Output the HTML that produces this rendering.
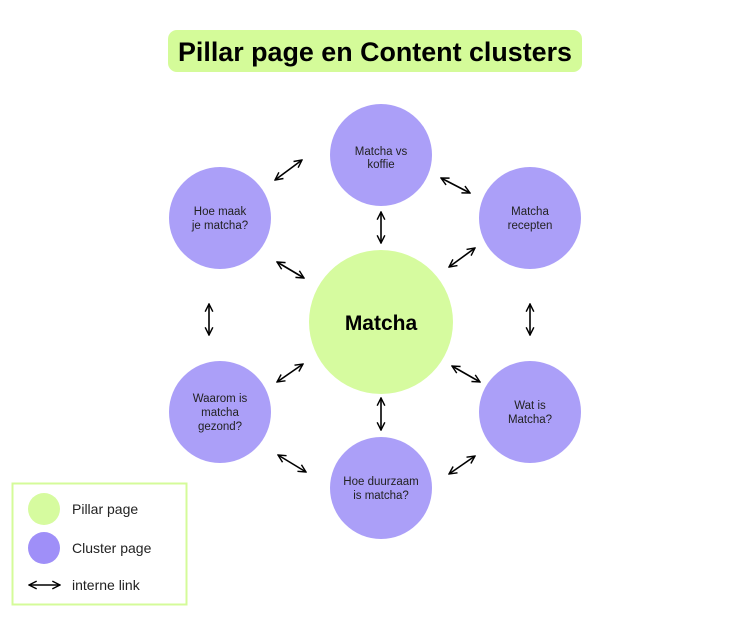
<!DOCTYPE html>
<html><head><meta charset="utf-8"><style>
body{margin:0;background:#fff;width:750px;height:620px;overflow:hidden}
svg text{font-family:"Liberation Sans",sans-serif}
</style></head><body>
<svg width="750" height="620" viewBox="0 0 750 620">
<defs>
<marker id="a" viewBox="0 0 10 10" refX="9" refY="5" markerWidth="6" markerHeight="6" orient="auto-start-reverse">
<path d="M1,1 L9,5 L1,9" fill="none" stroke="#000" stroke-width="1.5"/>
</marker>
</defs>
<rect x="168" y="30" width="414" height="42" rx="9" fill="#d4fb99"/>
<text x="375" y="61" text-anchor="middle" font-size="26.5" font-weight="bold" fill="#000" textLength="394" lengthAdjust="spacingAndGlyphs">Pillar page en Content clusters</text>
<g fill="#ab9ff8">
<circle cx="381" cy="155" r="51"/><circle cx="220" cy="218" r="51"/><circle cx="530" cy="218" r="51"/>
<circle cx="220" cy="412" r="51"/><circle cx="530" cy="412" r="51"/><circle cx="381" cy="488" r="51"/>
</g>
<circle cx="381" cy="322" r="72" fill="#d6fb9f"/>
<text x="381" y="330" text-anchor="middle" font-size="21" font-weight="bold">Matcha</text>
<g font-size="11.5" text-anchor="middle" fill="#222">
<text x="381" y="155">Matcha vs</text><text x="381" y="168">koffie</text>
<text x="220" y="215">Hoe maak</text><text x="220" y="229">je matcha?</text>
<text x="530" y="215">Matcha</text><text x="530" y="229">recepten</text>
<text x="220" y="402">Waarom is</text><text x="220" y="416">matcha</text><text x="220" y="430">gezond?</text>
<text x="530" y="409">Wat is</text><text x="530" y="423">Matcha?</text>
<text x="381" y="485">Hoe duurzaam</text><text x="381" y="499">is matcha?</text>
</g>
<g stroke="#000" stroke-width="1.6" marker-start="url(#a)" marker-end="url(#a)">
<line x1="275" y1="180" x2="302" y2="160"/>
<line x1="441" y1="178" x2="470" y2="193"/>
<line x1="381" y1="212" x2="381" y2="243"/>
<line x1="277" y1="262" x2="304" y2="278"/>
<line x1="449" y1="267" x2="475" y2="248"/>
<line x1="209" y1="304" x2="209" y2="335"/>
<line x1="530" y1="304" x2="530" y2="335"/>
<line x1="277" y1="382" x2="303" y2="364"/>
<line x1="452" y1="366" x2="480" y2="382"/>
<line x1="381" y1="398" x2="381" y2="430"/>
<line x1="278" y1="455" x2="306" y2="472"/>
<line x1="449" y1="474" x2="475" y2="456"/>
<line x1="29" y1="585" x2="60" y2="585"/>
</g>
<rect x="12.5" y="483.5" width="174" height="121" fill="none" stroke="#d4fb99" stroke-width="2"/>
<circle cx="44" cy="509" r="16" fill="#d6fb9f"/>
<circle cx="44" cy="548" r="16" fill="#9f8ff8"/>
<g font-size="14" fill="#222">
<text x="72" y="514">Pillar page</text>
<text x="72" y="553">Cluster page</text>
<text x="72" y="590">interne link</text>
</g>
</svg>
</body></html>
